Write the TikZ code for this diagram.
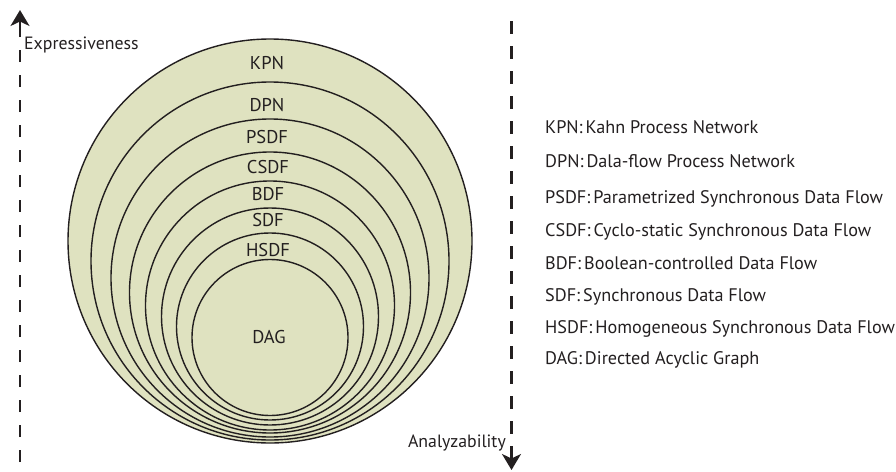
\documentclass[tikz,border=0pt]{standalone}
\usepackage{fontspec}
\setmainfont{PT Sans}
\usetikzlibrary{arrows.meta}
\definecolor{ringfill}{RGB}{223,226,192}
\definecolor{ink}{RGB}{35,31,32}
\tikzset{
  ring/.style={circle, draw=ink, fill=ringfill, line width=1.4pt, inner sep=0pt, minimum size=#1},
  ringlabel/.style={anchor=base, text=ink, inner sep=0pt, font=\fontsize{18.5}{20}\selectfont},
  legend/.style={anchor=base west, text=ink, inner sep=0pt, font=\fontsize{18.2}{20}\selectfont},
  axislabel/.style={text=ink, inner sep=0pt, font=\fontsize{17.8}{20}\selectfont},
  axis/.style={draw=ink, line width=2.1pt, dash pattern=on 12.5pt off 12.5pt},
  axishead/.style={draw=ink, line width=2.1pt, -{Stealth[length=16pt,width=19pt,inset=4.5pt]}}
}
\begin{document}
\begin{tikzpicture}[x=1pt,y=-1pt]
\useasboundingbox (0,0) rectangle (896,471);
% nested circles
\node[ring=404pt] (kpn)  at (270,241) {};
\node[ring=358pt] (dpn)  at (270,261) {};
\node[ring=318pt] (psdf) at (270,278) {};
\node[ring=281pt] (csdf) at (270,292.5) {};
\node[ring=249pt] (bdf)  at (270,305.5) {};
\node[ring=217pt] (sdf)  at (270,316.5) {};
\node[ring=187pt] (hsdf) at (270,326.5) {};
\node[ring=156pt] (dag)  at (270,337.5) {};
% ring labels
\node[ringlabel] (lkpn)  at (267,69.3) {KPN};
\node[ringlabel] (ldpn)  at (267,111) {DPN};
\node[ringlabel] (lpsdf) at (267,143.3) {PSDF};
\node[ringlabel] (lcsdf) at (268,173.3) {CSDF};
\node[ringlabel] (lbdf)  at (268,200) {BDF};
\node[ringlabel] (lsdf)  at (268,226.7) {SDF};
\node[ringlabel] (lhsdf) at (268,256) {HSDF};
\node[ringlabel] (ldag)  at (269,343.3) {DAG};
% axes
\coordinate (lbot) at (20,462);
\coordinate (ltop) at (20,24.5);
\coordinate (ltip) at (20,10);
\coordinate (rtop) at (511.5,21);
\coordinate (rbot) at (511.5,458.5);
\coordinate (rtip) at (511.5,470);
\draw[axis] (lbot) -- (ltop);
\draw[axishead] (ltop) -- (ltip);
\draw[axis] (rtop) -- (rbot);
\draw[axishead] (rbot) -- (rtip);
\node[axislabel, anchor=base west] (expr) at (24,49.3) {Expressiveness};
\node[axislabel, anchor=base east] (anal) at (506,447.3) {Analyzability};
% legend
\node[legend] (gkpn)  at (545,133.3) {KPN:\,Kahn Process Network};
\node[legend] (gdpn)  at (545,167.3) {DPN:\,Dala-flow Process Network};
\node[legend] (gpsdf) at (545,203.5) {PSDF:\,Parametrized Synchronous Data Flow};
\node[legend] (gcsdf) at (545,236.3) {CSDF:\,Cyclo-static Synchronous Data Flow};
\node[legend] (gbdf)  at (545,269.5) {BDF:\,Boolean-controlled Data Flow};
\node[legend] (gsdf)  at (545,301.5) {SDF:\,Synchronous Data Flow};
\node[legend] (ghsdf) at (545,333.3) {HSDF:\,Homogeneous Synchronous Data Flow};
\node[legend] (gdag)  at (545,364.5) {DAG:\,Directed Acyclic Graph};
\end{tikzpicture}
\end{document}
